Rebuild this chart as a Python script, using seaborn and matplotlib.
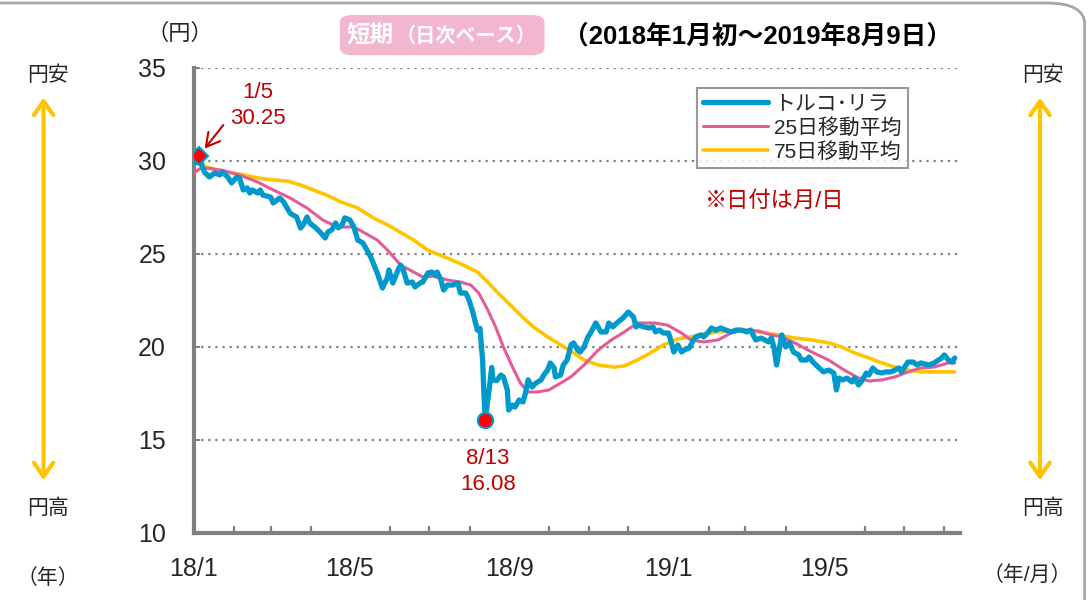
import numpy as np
import pandas as pd
import matplotlib
matplotlib.use("Agg")
import matplotlib.pyplot as plt
import seaborn as sns
from matplotlib.patches import FancyBboxPatch
from matplotlib.lines import Line2D

# ---------------- data (days since 2018-01-01) ----------------
lira_days = [1, 4, 8, 12, 16, 20, 22, 26, 29, 33, 35, 38, 41, 43, 45, 49, 51, 53, 59, 61,
             66, 69, 74, 76, 79, 82, 84, 87, 89, 93, 97, 101, 103, 106, 109, 111, 114, 116, 120, 123,
             126, 130, 136, 141, 145, 149, 150, 153, 157, 159, 161, 164, 168, 170, 174, 176, 180, 183, 186, 187,
             190, 192, 195, 199, 203, 205, 209, 211, 214, 218, 220, 222, 223, 224, 227, 229, 230, 233, 236, 238,
             241, 242, 245, 247, 250, 253, 255, 257, 260, 263, 267, 269, 272, 274, 277, 278, 282, 284, 287, 290,
             292, 295, 297, 300, 303, 305, 309, 313, 317, 319, 322, 326, 330, 332, 334, 338, 340, 342, 346, 350,
             353, 355, 358, 361, 365, 367, 369, 372, 375, 377, 381, 384, 386, 390, 392, 395, 398, 401, 405, 409,
             413, 417, 421, 425, 428, 432, 436, 442, 444, 446, 448, 450, 452, 455, 458, 461, 465, 467, 471, 473,
             476, 480, 484, 488, 492, 494, 496, 499, 502, 506, 508, 511, 513, 517, 519, 522, 525, 529, 532, 536,
             539, 542, 544, 546, 549, 553, 556, 559, 565, 569, 575, 577, 580, 583, 585]
lira_vals = [29.9, 30.25, 29.41, 29.14, 29.35, 29.25, 29.41, 29.14, 28.82, 29.14, 29.09, 28.44, 28.55, 28.28, 28.44, 28.28, 28.44, 28.17, 28.06, 27.74,
             28.01, 27.80, 27.20, 27.10, 26.99, 26.40, 26.56, 26.99, 26.67, 26.45, 26.18, 25.86, 26.18, 26.29, 26.67, 26.40, 26.56, 26.94, 26.83, 26.45,
             25.75, 25.59, 24.84, 23.98, 23.17, 23.76, 24.14, 23.44, 24.14, 24.40, 24.14, 23.44, 23.49, 23.23, 23.44, 23.49, 23.98, 24.03, 23.87, 24.03,
             23.60, 23.06, 23.33, 23.33, 23.44, 22.90, 22.90, 22.63, 21.99, 20.90, 21.00, 19.30, 17.53, 16.08, 17.69, 18.90, 18.23, 18.20, 18.49, 18.39,
             17.69, 16.61, 16.88, 16.77, 17.15, 17.04, 17.53, 18.23, 17.85, 18.06, 18.23, 18.49, 18.76, 19.14, 18.87, 18.39, 18.49, 19.03, 19.30, 20.11,
             20.22, 19.84, 19.73, 20.00, 20.54, 20.75, 21.29, 20.81, 20.81, 21.29, 21.08, 21.34, 21.56, 21.72, 21.88, 21.61, 21.08, 21.18, 21.08, 21.02,
             21.08, 20.81, 20.91, 20.75, 20.75, 20.27, 19.73, 20.11, 19.73, 19.84, 19.95, 20.38, 20.54, 20.65, 20.54, 20.75, 21.02, 20.91, 21.02, 20.91,
             20.81, 20.91, 20.91, 20.81, 20.91, 20.38, 20.48, 20.27, 20.48, 20.00, 19.03, 19.84, 20.65, 20.00, 20.22, 19.73, 19.57, 19.30, 19.30, 19.46,
             19.19, 18.92, 18.66, 18.76, 18.60, 17.69, 18.33, 18.23, 18.33, 18.12, 18.33, 17.96, 18.12, 18.60, 18.49, 18.87, 18.66, 18.60, 18.66, 18.66,
             18.76, 18.87, 18.66, 18.87, 19.19, 19.19, 19.03, 19.14, 19.03, 19.14, 19.41, 19.57, 19.30, 19.19, 19.41]

ma25_days = [0, 5, 12, 22, 35, 49, 61, 74, 87, 99, 107, 115, 123, 130, 141, 149, 159, 169, 176, 184,
             195, 205, 213, 219, 226, 232, 238, 245, 251, 257, 264, 273, 282, 290, 300, 311, 321, 331, 341, 354,
             364, 375, 382, 392, 403, 413, 423, 434, 444, 452, 462, 475, 488, 500, 511, 519, 529, 539, 549, 559,
             569, 580, 585]
ma25_vals = [29.35, 29.6, 29.6, 29.5, 29.25, 28.87, 28.44, 28.01, 27.47, 26.83, 26.56, 26.45, 26.45, 26.18, 25.75, 25.2, 24.4, 24.03, 23.76, 23.8,
             23.6, 23.49, 23.33, 22.9, 21.99, 21.08, 20.0, 18.92, 18.06, 17.58, 17.58, 17.69, 18.06, 18.4, 19.03, 19.84, 20.38, 20.81, 21.29, 21.29,
             21.18, 20.75, 20.38, 20.27, 20.38, 20.75, 20.91, 20.86, 20.65, 20.54, 20.22, 19.73, 19.30, 18.76, 18.33, 18.17, 18.23, 18.39, 18.66, 18.87,
             18.92, 19.14, 19.14]

ma75_days = [0, 10, 22, 35, 49, 61, 72, 82, 92, 102, 113, 126, 138, 149, 169, 180, 195, 207, 218, 226,
             233, 241, 251, 261, 272, 282, 292, 300, 311, 323, 331, 341, 351, 361, 372, 382, 392, 403, 413, 423,
             434, 449, 462, 475, 488, 498, 508, 519, 529, 539, 549, 559, 569, 585]
ma75_vals = [29.95, 29.68, 29.41, 29.3, 29.09, 28.98, 28.92, 28.71, 28.44, 28.17, 27.80, 27.47, 26.94, 26.56, 25.75, 25.2, 24.78, 24.41, 24.03, 23.49,
             22.96, 22.42, 21.72, 21.08, 20.54, 20.11, 19.68, 19.30, 19.03, 18.92, 18.98, 19.30, 19.68, 20.11, 20.43, 20.54, 20.7, 20.81, 20.86, 20.91,
             20.81, 20.65, 20.48, 20.38, 20.22, 20.0, 19.68, 19.41, 19.14, 18.92, 18.76, 18.66, 18.66, 18.66]

series_names = ["トルコ･リラ", "25日移動平均", "75日移動平均"]
major_labels = ["18/1", "18/5", "18/9", "19/1", "19/5"]
major_months = ["2018-01-01", "2018-05-01", "2018-09-01", "2019-01-01", "2019-05-01"]
hi_day, hi_val, hi_text = 4, 30.25, "1/5\n30.25"
lo_day, lo_val, lo_text = 224, 16.08, "8/13\n16.08"
yticks = [10, 15, 20, 25, 30, 35]

# ---------------- style ----------------
sns.set_theme(style="white")
plt.rcParams["font.family"] = ["Liberation Sans", "Noto Sans CJK JP", "DejaVu Sans"]

BLUE = "#0099CC"
PINK = "#E55B98"
YELLOW = "#FFC400"
GRAY = "#808080"
DARKRED = "#C00000"

fig = plt.figure(figsize=(10.89, 6.0), dpi=100)
ax = fig.add_axes([0.178, 0.1117, 0.7035, 0.775])

df = pd.concat([
    pd.DataFrame({"day": lira_days, "val": lira_vals, "s": series_names[0]}),
    pd.DataFrame({"day": ma25_days, "val": ma25_vals, "s": series_names[1]}),
    pd.DataFrame({"day": ma75_days, "val": ma75_vals, "s": series_names[2]}),
])

sns.lineplot(data=df[df.s == series_names[2]], x="day", y="val", color=YELLOW, lw=2.6, ax=ax, legend=False, zorder=3)
sns.lineplot(data=df[df.s == series_names[1]], x="day", y="val", color=PINK, lw=2.2, ax=ax, legend=False, zorder=4)
sns.lineplot(data=df[df.s == series_names[0]], x="day", y="val", color=BLUE, lw=3.8, ax=ax, legend=False, zorder=5)

ax.plot([hi_day], [hi_val], marker="D", ms=9, mfc="red", mec=BLUE, mew=1.5, zorder=6, ls="none")
ax.plot([lo_day], [lo_val], marker="o", ms=11, mfc="red", mec=BLUE, mew=1.5, zorder=6, ls="none")

ax.set_xlim(0, 589)
ax.set_ylim(10, 35)
ax.set_xlabel("")
ax.set_ylabel("")

# grid
for y in yticks[1:]:
    ax.axhline(y, color=GRAY, lw=1.6, ls=(0, (1, 2.2)), zorder=1)

# spines
for s in ["top", "right"]:
    ax.spines[s].set_visible(False)
for s in ["left", "bottom"]:
    ax.spines[s].set_color(GRAY)
    ax.spines[s].set_linewidth(3)

start = pd.Timestamp("2018-01-01")
major_pos = [(pd.Timestamp(m) - start).days for m in major_months]
all_months = pd.date_range("2018-01-01", "2019-08-01", freq="MS")
minor_pos = [(m - start).days for m in all_months if (m - start).days not in major_pos]

ax.set_xticks(major_pos)
ax.set_xticklabels(major_labels, fontsize=18)
ax.set_xticks(minor_pos, minor=True)
ax.tick_params(axis="x", which="major", direction="out", length=8, width=1.6, color=GRAY, pad=9)
ax.tick_params(axis="x", which="minor", direction="in", length=5, width=1.6, color=GRAY, bottom=True)
ax.set_yticks(yticks)
ax.set_yticklabels([str(v) for v in yticks], fontsize=18)
ax.tick_params(axis="y", which="major", direction="in", length=4, width=1.4, color=GRAY, pad=20, left=True)

# annotations
ax.text(49, 33.0, hi_text, color=DARKRED, fontsize=16, ha="center", va="center", linespacing=1.3)
ax.annotate("", xy=(hi_day + 3, hi_val + 0.3), xytext=(hi_day + 20, hi_val + 1.8),
            arrowprops=dict(arrowstyle="->,head_length=0.8,head_width=0.45", color=DARKRED, lw=1.5), zorder=7)
ax.text(lo_day + 2, 13.3, lo_text, color=DARKRED, fontsize=16, ha="center", va="center", linespacing=1.3)
ax.text(393, 27.85, "※日付は月/日", color=DARKRED, fontsize=16, ha="left", va="center")

# legend
handles = [Line2D([0], [0], color=BLUE, lw=3.8),
           Line2D([0], [0], color=PINK, lw=2.2),
           Line2D([0], [0], color=YELLOW, lw=2.6)]
leg = ax.legend(handles, series_names, loc="upper left", bbox_to_anchor=(0.657, 0.957), fontsize=15,
                frameon=True, fancybox=False, edgecolor=GRAY, handlelength=3.1, handletextpad=0.3,
                borderpad=0.3, labelspacing=0.2, borderaxespad=0)
leg.get_frame().set_linewidth(1.5)

# figure texts
fig.text(0.165, 0.943, "（円）", fontsize=16, ha="center", va="center")
fig.text(0.044, 0.875, "円安", fontsize=15, ha="center", va="center")
fig.text(0.044, 0.153, "円高", fontsize=15, ha="center", va="center")
fig.text(0.044, 0.037, "（年）", fontsize=15, ha="center", va="center")
fig.text(0.958, 0.875, "円安", fontsize=15, ha="center", va="center")
fig.text(0.958, 0.153, "円高", fontsize=15, ha="center", va="center")
fig.text(0.943, 0.042, "（年/月）", fontsize=15, ha="center", va="center")

for xf in [0.040, 0.955]:
    fig.add_artist(matplotlib.patches.FancyArrowPatch((xf, 0.842), (xf, 0.195), transform=fig.transFigure,
                   arrowstyle="<->,head_length=10,head_width=7", color=YELLOW, lw=3, mutation_scale=1))

# title box
tb = FancyBboxPatch((0.312, 0.908), 0.188, 0.067, boxstyle="round,pad=0,rounding_size=0.012",
                    transform=fig.transFigure, facecolor="#F2B6CF", edgecolor="none")
fig.add_artist(tb)
fig.text(0.318, 0.940, "短期", fontsize=17, fontweight="bold", color="white", ha="left", va="center")
fig.text(0.363, 0.940, "（日次ベース）", fontsize=14.5, fontweight="bold", color="white", ha="left", va="center")
fig.text(0.517, 0.940, "（2018年1月初～2019年8月9日）", fontsize=18.5, fontweight="bold", color="black",
         ha="left", va="center")

# outer border
border = FancyBboxPatch((-0.05, -0.1), 1.046, 1.095, boxstyle="round,pad=0,rounding_size=0.035",
                        transform=fig.transFigure, facecolor="none", edgecolor="#A6A6A6", lw=2)
fig.add_artist(border)

fig.savefig("out.png", dpi=100)
